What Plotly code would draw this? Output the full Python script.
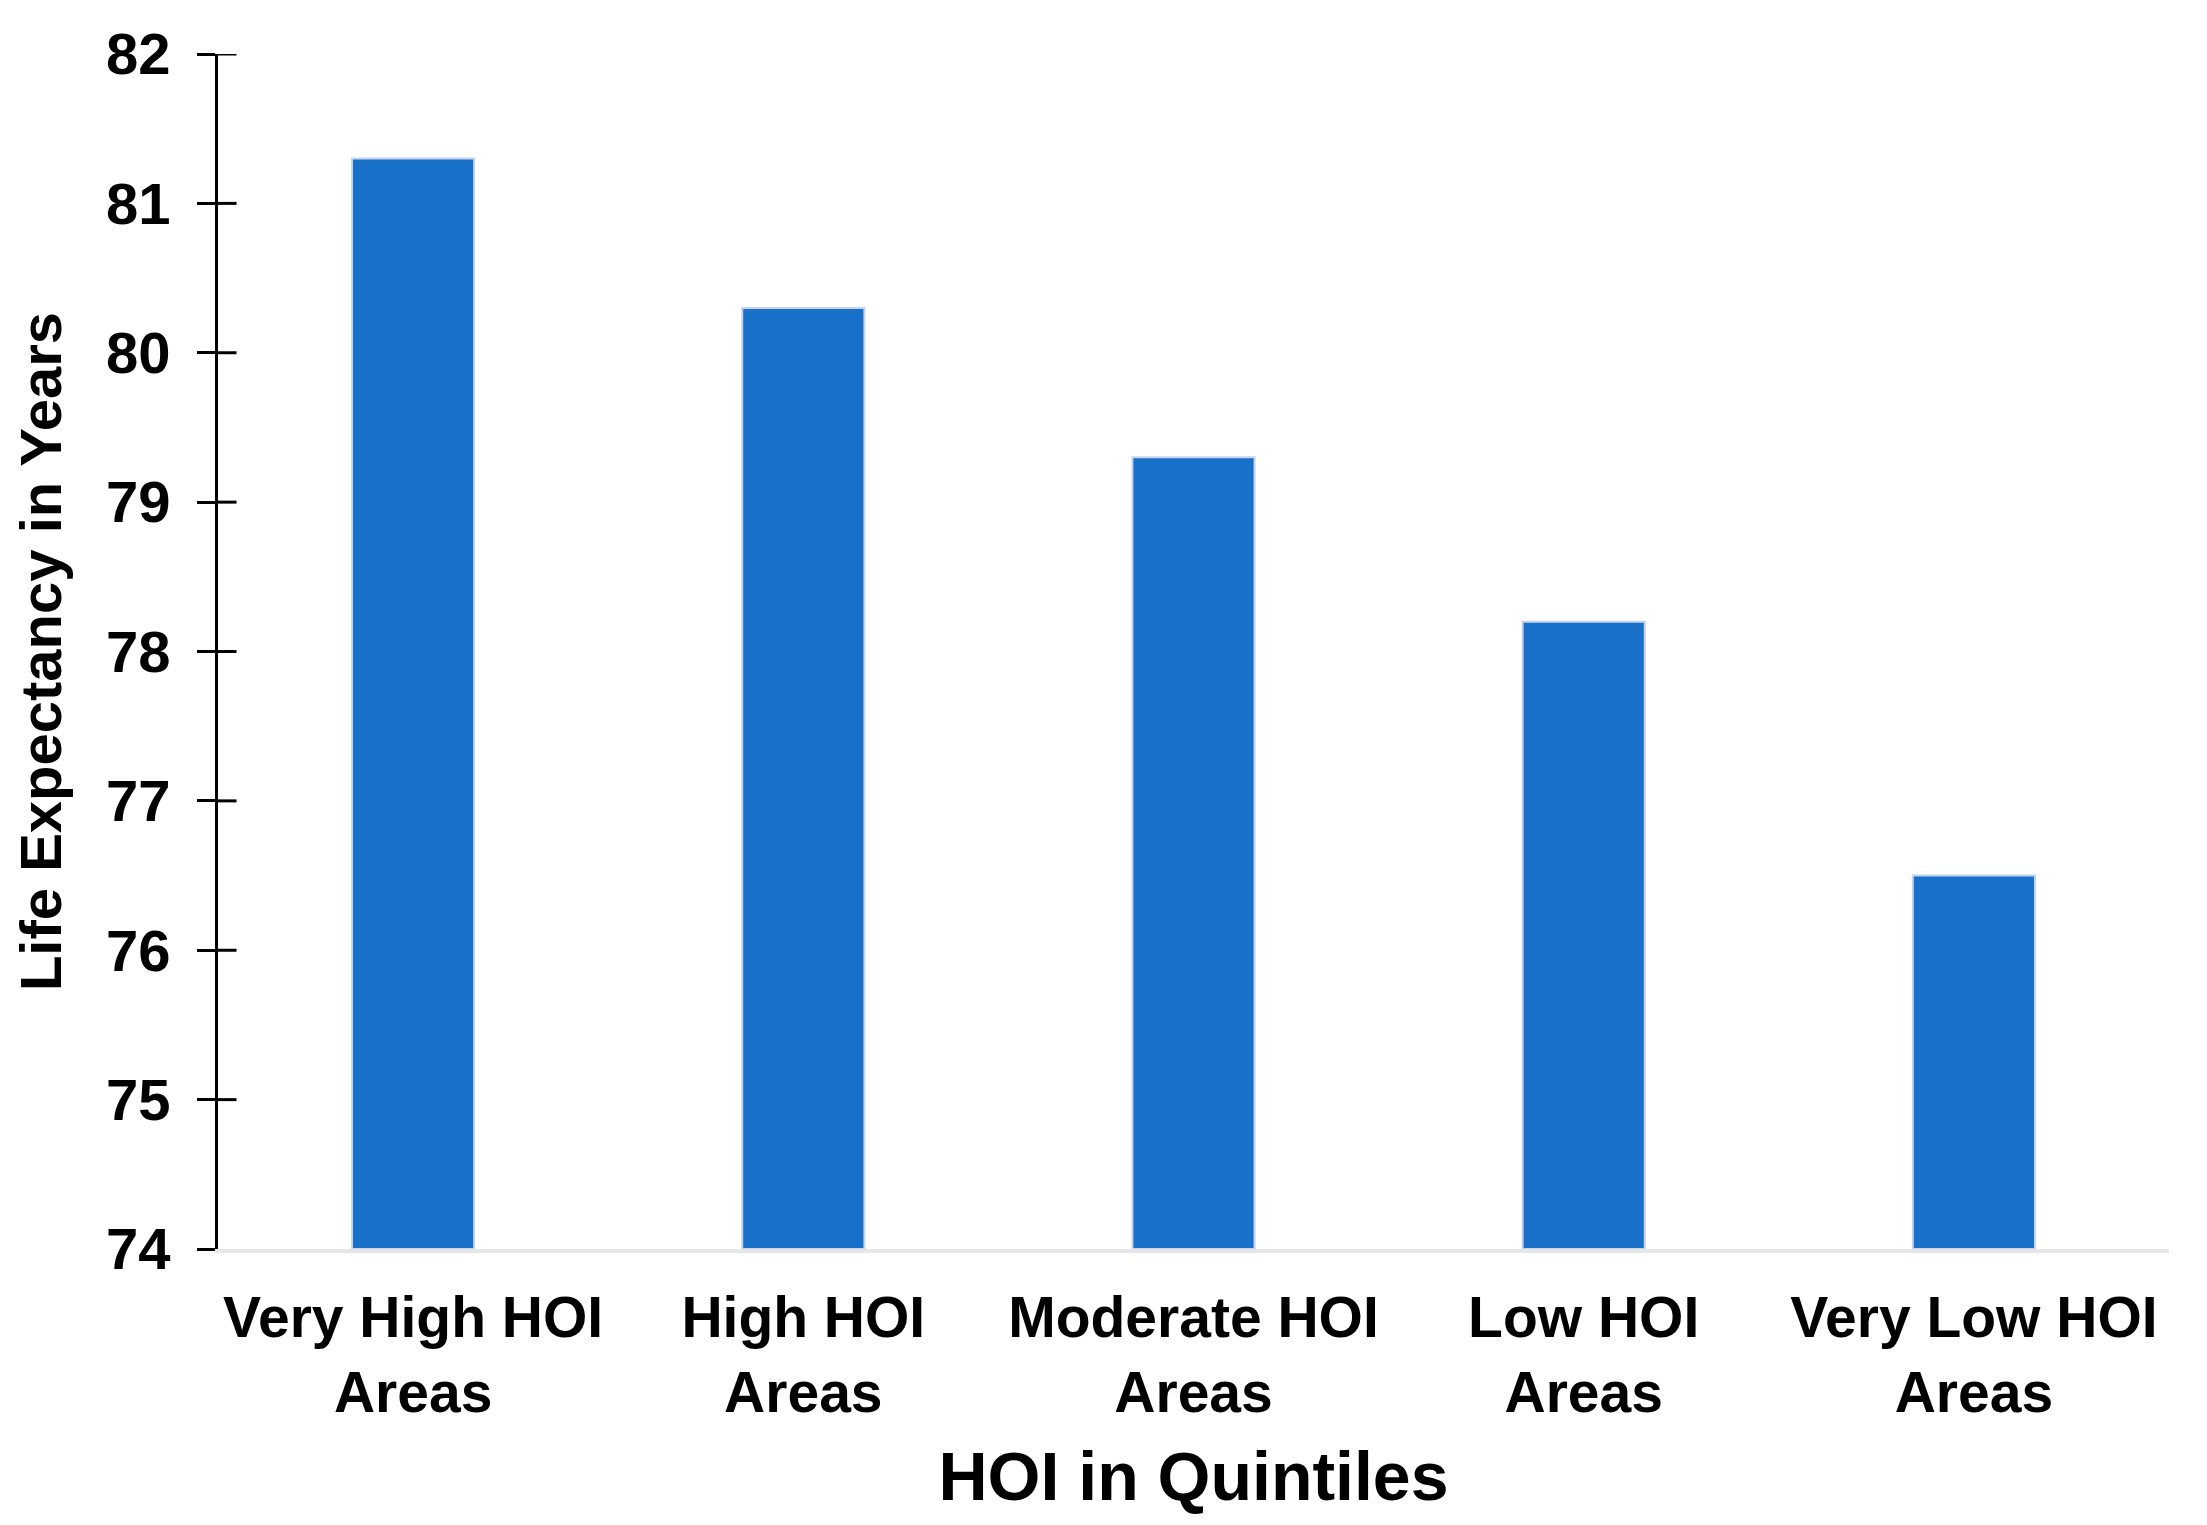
import plotly.graph_objects as go

categories = ["Very High HOI<br>Areas", "High HOI<br>Areas", "Moderate HOI<br>Areas",
              "Low HOI<br>Areas", "Very Low HOI<br>Areas"]
life_expectancy = [81.3, 80.3, 79.3, 78.2, 76.5]
y_ticks = [74, 75, 76, 77, 78, 79, 80, 81, 82]
y_base = 74

FONT = "Liberation Sans, Arial, sans-serif"

fig = go.Figure()
fig.add_trace(go.Bar(
    x=categories, y=[v - y_base for v in life_expectancy], base=y_base,
    marker=dict(color="#1870C8", line=dict(color="#c6d3ec", width=2)),
    hovertext=[str(v) for v in life_expectancy],
))

fig.update_layout(
    width=2199, height=1517,
    margin=dict(l=210, r=38, t=46, b=276),
    paper_bgcolor="white", plot_bgcolor="white",
    bargap=0.687,
    showlegend=False,
    font=dict(family=FONT, color="black", size=57),
    xaxis=dict(
        automargin=False,
        showline=True, linecolor="#e6e6e6", linewidth=4,
        ticks="", showgrid=False, zeroline=False,
        tickfont=dict(family=FONT, size=57, color="black", weight="bold"),
        ticklabelstandoff=16,
        title=dict(text="<b>HOI in Quintiles</b>", font=dict(family=FONT, size=68, color="black"),
                   standoff=31),
    ),
    yaxis=dict(
        automargin=False,
        range=[74, 82], tickvals=y_ticks, ticktext=[str(t) for t in y_ticks],
        showline=True, linecolor="black", linewidth=3,
        ticks="outside", ticklen=18, tickwidth=3, tickcolor="black",
        showgrid=False, zeroline=False,
        tickfont=dict(family=FONT, size=58, color="black", weight="bold"),
        ticklabelstandoff=15,
        title=dict(text="<b>Life Expectancy in Years</b>", font=dict(family=FONT, size=58, color="black"),
                   standoff=28),
    ),
)

# inner half of the cross-style y ticks (the axis ticks cross the axis line)
fig.update_layout(shapes=[
    dict(type="line", xref="paper", yref="y", x0=0, x1=0.0095, y0=t, y1=t,
         line=dict(color="black", width=3), layer="above")
    for t in y_ticks[1:]
])

fig.write_html("out.html")
